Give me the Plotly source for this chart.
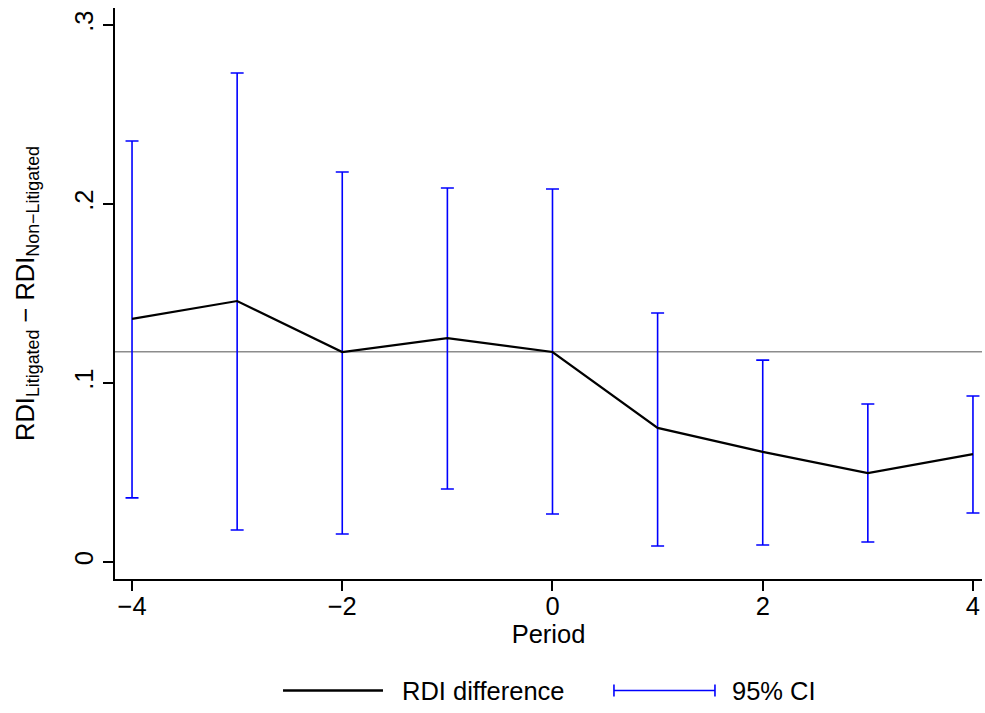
import plotly.graph_objects as go

period = [-4, -3, -2, -1, 0, 1, 2, 3, 4]
rdi_diff = [0.1358, 0.1458, 0.1173, 0.1251, 0.1173, 0.0749, 0.0615, 0.0497, 0.0603]
ci_upper = [0.2352, 0.2732, 0.2179, 0.2089, 0.2084, 0.1391, 0.1128, 0.0883, 0.0927]
ci_lower = [0.0358, 0.0179, 0.0156, 0.0408, 0.0268, 0.0089, 0.0095, 0.0112, 0.0274]
ref_level = 0.1175
x_ticks = [-4, -2, 0, 2, 4]
x_ticklabels = ["\u22124", "\u22122", "0", "2", "4"]
y_ticks = [0, 0.1, 0.2, 0.3]
y_ticklabels = ["0", ".1", ".2", ".3"]

FONT = "Liberation Sans, Arial, sans-serif"
FS = 25.5

fig = go.Figure()

fig.add_trace(go.Scatter(
    x=period, y=rdi_diff,
    mode="markers",
    marker=dict(size=1, color="rgba(0,0,0,0)"),
    error_y=dict(
        type="data", symmetric=False,
        array=[u - m for u, m in zip(ci_upper, rdi_diff)],
        arrayminus=[m - l for m, l in zip(rdi_diff, ci_lower)],
        color="#0000ff", thickness=1.6, width=6.5,
    ),
    showlegend=False, hoverinfo="skip",
))

fig.add_trace(go.Scatter(
    x=period, y=rdi_diff, mode="lines",
    line=dict(color="black", width=2.2),
    showlegend=False,
))

fig.add_shape(type="line", xref="paper", x0=0, x1=1, yref="y", y0=ref_level, y1=ref_level,
              line=dict(color="#8c8c8c", width=1.5), layer="below")

# custom legend
leg_y = -0.1953
fig.add_shape(type="line", xref="paper", yref="paper", x0=0.1938, x1=0.3091, y0=leg_y, y1=leg_y,
              line=dict(color="black", width=2.6))
fig.add_annotation(xref="paper", yref="paper", x=0.329, y=leg_y, text="RDI difference",
                   showarrow=False, xanchor="left", yanchor="middle",
                   font=dict(family=FONT, size=FS, color="black"))
fig.add_shape(type="line", xref="paper", yref="paper", x0=0.5755, x1=0.6920, y0=leg_y, y1=leg_y,
              line=dict(color="#0000ff", width=1.6))
cap = 0.0105
for xx in (0.5755, 0.6920):
    fig.add_shape(type="line", xref="paper", yref="paper", x0=xx, x1=xx,
                  y0=leg_y - cap, y1=leg_y + cap, line=dict(color="#0000ff", width=1.6))
fig.add_annotation(xref="paper", yref="paper", x=0.7095, y=leg_y, text="95% CI",
                   showarrow=False, xanchor="left", yanchor="middle",
                   font=dict(family=FONT, size=FS, color="black"))

fig.update_layout(
    width=985, height=713,
    margin=dict(l=115, r=3, t=8, b=134),
    paper_bgcolor="white", plot_bgcolor="white",
    font=dict(family=FONT, size=FS, color="black"),
    showlegend=False,
)
fig.update_xaxes(
    range=[-4.162, 4.086], tickvals=x_ticks, ticktext=x_ticklabels,
    tickfont=dict(family=FONT, size=FS, color="black"),
    ticklabelstandoff=-6,
    showgrid=False, zeroline=False, showline=True, linecolor="black", linewidth=1.5,
    ticks="outside", ticklen=10, tickwidth=1.5, tickcolor="black",
    title=dict(text="Period", font=dict(family=FONT, size=FS, color="black"), standoff=0),
    automargin=False,
)
fig.update_yaxes(
    range=[-0.0095, 0.3095], tickvals=y_ticks, ticktext=y_ticklabels, tickangle=-90,
    tickfont=dict(family=FONT, size=FS, color="black"),
    showgrid=False, zeroline=False, showline=True, linecolor="black", linewidth=1.5,
    ticks="outside", ticklen=10, tickwidth=1.5, tickcolor="black",
    title=dict(text="RDI<sub>Litigated</sub> \u2212 RDI<sub>Non\u2212Litigated</sub>",
               font=dict(family=FONT, size=FS, color="black"), standoff=28),
    automargin=False,
)

fig.write_html("out.html")
